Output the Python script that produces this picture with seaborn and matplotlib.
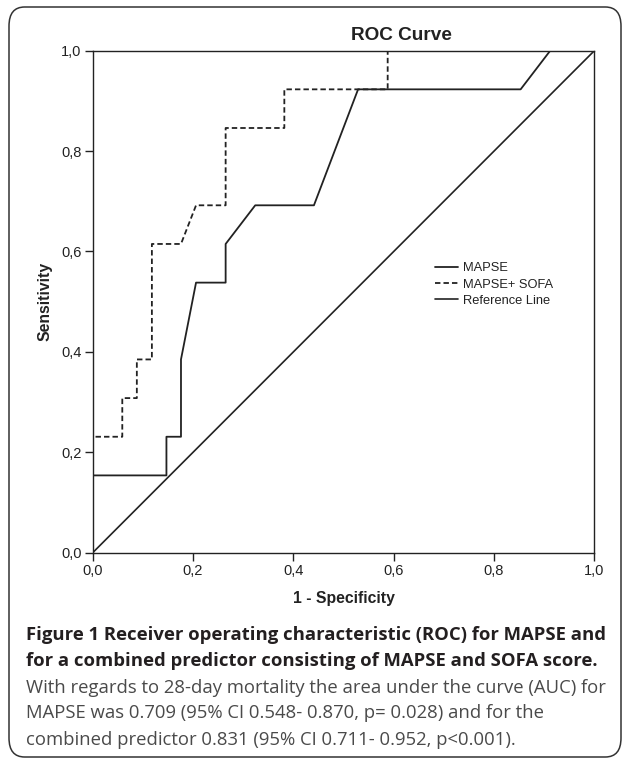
import seaborn as sns
import pandas as pd
import matplotlib.pyplot as plt
from matplotlib.patches import FancyBboxPatch

# значения кривых
mapse_fpr = [0.0, 0.0, 0.147, 0.147, 0.176, 0.176, 0.206, 0.265, 0.265, 0.324, 0.441, 0.529, 0.853, 0.912, 1.0]
mapse_tpr = [0.0, 0.154, 0.154, 0.231, 0.231, 0.385, 0.538, 0.538, 0.615, 0.692, 0.692, 0.923, 0.923, 1.0, 1.0]

combo_fpr = [0.0, 0.0, 0.059, 0.059, 0.088, 0.088, 0.118, 0.118, 0.176, 0.206, 0.265, 0.265, 0.382, 0.382, 0.588, 0.588, 1.0]
combo_tpr = [0.0, 0.231, 0.231, 0.308, 0.308, 0.385, 0.385, 0.615, 0.615, 0.692, 0.692, 0.846, 0.846, 0.923, 0.923, 1.0, 1.0]

ref_x = [0.0, 1.0]
ref_y = [0.0, 1.0]

series_names = ['MAPSE', 'MAPSE+ SOFA', 'Reference Line']
tick_values = [0.0, 0.2, 0.4, 0.6, 0.8, 1.0]
tick_labels = ['0,0', '0,2', '0,4', '0,6', '0,8', '1,0']

caption_bold = ['Figure 1 Receiver operating characteristic (ROC) for MAPSE and',
                'for a combined predictor consisting of MAPSE and SOFA score.']
caption_text = ['With regards to 28-day mortality the area under the curve (AUC) for',
                'MAPSE was 0.709 (95% CI 0.548- 0.870, p= 0.028) and for the',
                'combined predictor 0.831 (95% CI 0.711- 0.952, p<0.001).']

sns.set_style('ticks')
plt.rcParams['font.family'] = ['Liberation Sans', 'DejaVu Sans']

ink = '#222222'

fig = plt.figure(figsize=(6.25, 7.61), dpi=100)
ax = fig.add_axes([0.1483, 0.2737, 0.951 - 0.1483, 0.9334 - 0.2737])

d1 = pd.DataFrame({'x': mapse_fpr, 'y': mapse_tpr})
d2 = pd.DataFrame({'x': combo_fpr, 'y': combo_tpr})
d3 = pd.DataFrame({'x': ref_x, 'y': ref_y})

sns.lineplot(data=d1, x='x', y='y', sort=False, estimator=None, color=ink,
             linewidth=1.3, ax=ax, label=series_names[0])
sns.lineplot(data=d2, x='x', y='y', sort=False, estimator=None, color=ink,
             linewidth=1.3, linestyle=(0, (3.0, 1.7)), ax=ax, label=series_names[1])
sns.lineplot(data=d3, x='x', y='y', sort=False, estimator=None, color=ink,
             linewidth=1.2, ax=ax, label=series_names[2])

ax.set_xlim(0, 1)
ax.set_ylim(0, 1)
ax.set_xticks(tick_values)
ax.set_xticklabels(tick_labels)
ax.set_yticks(tick_values)
ax.set_yticklabels(tick_labels)
ax.set_xlabel('')
ax.set_ylabel('')
ax.tick_params(axis='both', direction='out', length=6, width=1.0, color=ink,
               labelsize=10.5, labelcolor=ink, pad=2)
for s in ax.spines.values():
    s.set_visible(True)
    s.set_color(ink)
    s.set_linewidth(1.0)

leg = ax.legend(loc='upper left', bbox_to_anchor=(0.685, 0.664),
                bbox_transform=fig.transFigure, frameon=False, fontsize=9.3,
                handlelength=1.8, handletextpad=0.4, labelspacing=0.33, borderpad=0)
for t in leg.get_texts():
    t.set_color(ink)

# подписи
fig.text(0.643, 0.954, 'ROC Curve', ha='center', va='center', fontsize=13.7,
         fontweight='bold', color=ink)
fig.text(0.0720, 0.6035, 'Sensitivity', ha='center', va='center', rotation=90,
         fontsize=11.3, fontweight='bold', color=ink)
fig.text(0.5496, 0.214, '1 - Specificity', ha='center', va='center',
         fontsize=11.3, fontweight='bold', color=ink)

# подпись к рисунку
ys = [635, 661.5, 688, 713.5, 740]
for i, line in enumerate(caption_bold + caption_text):
    bold = i < len(caption_bold)
    fig.text(26 / 625, 1 - ys[i] / 761, line, ha='left', va='center',
             fontsize=13.3, family=['Open Sans', 'DejaVu Sans'],
             fontweight='bold' if bold else 'normal',
             color='#231f20' if bold else '#4a4a4a')

# рамка вокруг всего рисунка
box = FancyBboxPatch((9 / 625, 1 - 757 / 761), (621 - 9) / 625, (757 - 7) / 761,
                     boxstyle='round,pad=0,rounding_size=0.025',
                     transform=fig.transFigure, fill=False,
                     edgecolor='#333333', linewidth=1.1)
fig.patches.append(box)

fig.savefig('out.png', dpi=100)
